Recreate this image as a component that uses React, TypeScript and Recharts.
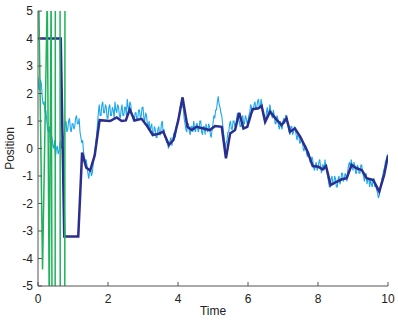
import { LineChart, Line, XAxis, YAxis } from 'recharts';

// noisy measured position, one sample every 0.025 s from t = 0
const measuredStep = 0.025;
const measured = [
  2.6, 2.2, 2.1, 2.5, 2.3, 1.8, 1.6, 1.7, 1.3, 1.4,
  1.0, 0.7, 0.6, 0.8, 0.2, 0.5, 0.4, 0.1, 0.0, 0.3,
  -0.3, 0.0, 0.1, -0.2, -0.1, 0.2, 0.3, 0.0, 0.1, 0.4,
  0.5, 0.9, 1.0, 0.6, 0.7, 1.0, 1.1, 0.7, 0.6, 0.9,
  0.9, 0.7, 0.8, 1.1, 1.2, 0.9, 0.9, 1.1, 0.6, 0.4,
  0.2, 0.3, -0.1, -0.3, -0.5, -0.4, -0.6, -0.9, -1.1, -0.8,
  -0.7, -1.0, -0.9, -0.6, -0.3, -0.1, 0.2, 0.5, 0.9, 1.3,
  1.6, 1.2, 1.2, 1.6, 1.7, 1.3, 1.3, 1.6, 1.5, 1.1,
  1.1, 1.5, 1.6, 1.2, 1.2, 1.5, 1.4, 1.1, 1.7, 1.4,
  1.3, 1.6, 1.5, 1.2, 1.1, 1.4, 1.6, 1.2, 1.2, 1.5,
  1.5, 1.2, 1.8, 1.5, 1.4, 1.7, 1.6, 1.3, 1.2, 1.0,
  1.0, 1.3, 1.3, 1.0, 1.1, 1.4, 1.4, 1.1, 1.2, 1.5,
  1.5, 1.1, 1.0, 1.3, 1.2, 0.9, 0.8, 1.0, 0.6, 0.8,
  0.9, 0.5, 0.5, 0.8, 0.7, 0.4, 0.4, 0.7, 0.8, 0.5,
  0.5, 0.9, 1.0, 0.6, 0.7, 0.4, 0.4, 0.2, 0.3, 0.0,
  0.1, 0.3, 0.4, 0.1, 0.3, 0.5, 0.6, 0.4, 0.8, 0.9,
  1.0, 1.2, 1.4, 1.6, 1.7, 1.5, 1.5, 1.1, 0.9, 0.7,
  0.6, 0.9, 0.9, 0.6, 0.5, 0.8, 0.8, 0.6, 1.0, 0.7,
  0.6, 0.9, 0.9, 0.6, 0.7, 1.0, 1.0, 0.6, 0.5, 0.8,
  0.8, 0.5, 0.9, 0.7, 0.6, 0.9, 0.8, 0.5, 0.4, 0.7,
  0.9, 1.2, 1.1, 1.4, 1.4, 1.7, 1.9, 1.6, 1.5, 1.3,
  1.2, 0.9, 0.6, 0.3, 0.0, 0.2, 0.3, 0.6, 0.6, 0.9,
  1.0, 0.7, 0.7, 1.0, 1.0, 0.8, 0.8, 1.1, 1.3, 1.1,
  1.0, 0.8, 0.8, 1.1, 1.2, 0.9, 0.9, 1.2, 1.1, 0.9,
  1.0, 1.2, 1.3, 1.6, 1.5, 1.3, 1.4, 1.6, 1.7, 1.4,
  1.5, 1.7, 1.8, 1.5, 1.5, 1.8, 1.6, 1.3, 1.2, 1.0,
  1.0, 1.3, 1.5, 1.2, 1.3, 1.6, 1.4, 1.2, 1.1, 1.4,
  1.2, 0.9, 0.9, 1.2, 1.1, 0.8, 0.7, 1.0, 0.8, 0.7,
  1.0, 1.1, 0.9, 1.2, 1.2, 0.9, 0.8, 0.6, 0.5, 0.8,
  0.8, 0.5, 0.6, 0.8, 0.7, 0.5, 0.3, 0.5, 0.5, 0.2,
  0.2, 0.4, 0.3, 0.0, -0.1, 0.1, 0.1, -0.2, -0.3, -0.1,
  -0.2, -0.5, -0.5, -0.3, -0.4, -0.7, -0.8, -0.6, -0.5, -0.8,
  -0.7, -0.5, -0.4, -0.7, -0.9, -0.6, -0.6, -0.8, -0.4, -0.7,
  -0.8, -1.0, -1.2, -1.4, -1.4, -1.1, -1.0, -1.3, -1.3, -1.0,
  -1.1, -1.4, -1.4, -1.1, -1.0, -1.3, -1.2, -0.9, -0.9, -1.2,
  -1.1, -0.9, -1.0, -1.2, -0.8, -0.6, -0.5, -0.7, -0.4, -0.6,
  -0.8, -0.5, -0.6, -0.9, -0.9, -0.6, -0.7, -0.9, -0.9, -0.6,
  -0.6, -0.9, -1.0, -1.2, -1.0, -0.9, -1.3, -1.1, -1.1, -1.4,
  -1.1, -1.3, -1.4, -1.1, -1.1, -1.4, -1.3, -1.5, -1.6, -1.8,
  -1.7, -1.5, -1.3, -1.1, -1.0, -0.8, -0.7, -0.5, -0.4, -0.3,
  -0.2,
];

// smoothed estimate
const estimateT = [
  0, 0.65, 0.75, 1.15, 1.26, 1.38, 1.49, 1.62, 1.76, 2.06,
  2.25, 2.39, 2.51, 2.62, 2.76, 2.96, 3.1, 3.28, 3.44, 3.58,
  3.74, 3.87, 4.01, 4.13, 4.27, 4.39, 4.53, 4.72, 4.91, 5.06,
  5.25, 5.37, 5.49, 5.63, 5.75, 5.87, 5.98, 6.13, 6.3, 6.39,
  6.49, 6.63, 6.82, 6.96, 7.1, 7.2, 7.34, 7.49, 7.68, 7.85,
  8.01, 8.13, 8.23, 8.36, 8.53, 8.68, 8.82, 8.96, 9.1, 9.25,
  9.39, 9.58, 9.75, 9.89, 10,
];
const estimateY = [
  4, 4, -3.2, -3.2, -0.15, -0.7, -0.8, -0.25, 1.03, 1.0,
  1.13, 1.0, 1.02, 1.42, 1.02, 1.08, 0.85, 0.49, 0.53, 0.61,
  0.13, 0.31, 1.04, 1.86, 0.79, 0.67, 0.79, 0.73, 0.67, 0.82,
  0.79, -0.36, 0.55, 0.67, 1.3, 0.73, 0.79, 1.43, 1.46, 1.55,
  0.97, 1.34, 1.04, 0.85, 1.1, 0.61, 0.73, 0.43, -0.05, -0.64,
  -0.66, -0.76, -0.64, -1.33, -1.21, -1.12, -1.08, -0.6, -0.72, -0.78,
  -1.08, -1.15, -1.57, -0.96, -0.25,
];

// diverging estimate at the start (goes off the axes)
const divergeT = [0, 0.13, 0.265, 0.32, 0.375, 0.4, 0.49, 0.495, 0.63, 0.635, 0.765, 0.77];
const divergeY = [7.5, -4.4, 5.6, -5.6, 5.6, -5.6, -5.6, 5.6, 5.6, -5.6, -5.6, 5.6];

const xTicks = [0, 2, 4, 6, 8, 10];
const yTicks = [-5, -4, -3, -2, -1, 0, 1, 2, 3, 4, 5];

const measuredData = measured.map((y, i) => ({ t: i * measuredStep, y }));
const estimateData = estimateT.map((t, i) => ({ t, y: estimateY[i] }));
const divergeData = divergeT.map((t, i) => ({ t, y: divergeY[i] }));

const font = '"Liberation Sans", Arial, Helvetica, sans-serif';
const axisColor = '#555';
const tickStyle = { fill: '#222', fontSize: 12, fontFamily: font };

export default function App() {
  return (
    <div style={{ position: 'absolute', left: 0, top: 0, background: '#fff' }}>
      <style>{'body{margin:0}'}</style>
      <LineChart width={398} height={320} margin={{ top: 11, right: 10, bottom: 0, left: 0 }}>
        <XAxis
          type="number"
          dataKey="t"
          domain={[0, 10]}
          ticks={xTicks}
          allowDataOverflow
          stroke={axisColor}
          tickSize={-4}
          tickMargin={12}
          tick={tickStyle}
          height={34}
          label={{ value: 'Time', position: 'insideBottom', offset: 5, style: { fill: '#222', fontSize: 12, fontFamily: font } }}
        />
        <XAxis
          xAxisId="top"
          orientation="top"
          type="number"
          domain={[0, 10]}
          ticks={xTicks}
          allowDataOverflow
          stroke={axisColor}
          tickSize={-4}
          tick={false}
          height={0}
        />
        <YAxis
          type="number"
          domain={[-5, 5]}
          ticks={yTicks}
          allowDataOverflow
          stroke={axisColor}
          tickSize={-4}
          tickMargin={9}
          tick={tickStyle}
          width={38}
          label={{
            value: 'Position',
            angle: -90,
            position: 'insideLeft',
            offset: 10,
            style: { textAnchor: 'middle', fill: '#222', fontSize: 12, fontFamily: font },
          }}
        />
        <YAxis
          yAxisId="right"
          orientation="right"
          type="number"
          domain={[-5, 5]}
          ticks={yTicks}
          allowDataOverflow
          stroke={axisColor}
          tickSize={-4}
          tick={false}
          width={0}
        />
        <Line
          data={measuredData}
          dataKey="y"
          type="linear"
          stroke="#1ea7ec"
          strokeWidth={1.1}
          dot={false}
          isAnimationActive={false}
        />
        <Line
          data={estimateData}
          dataKey="y"
          type="linear"
          stroke="#2b2e8e"
          strokeWidth={2.5}
          dot={false}
          isAnimationActive={false}
        />
        <Line
          data={divergeData}
          dataKey="y"
          type="linear"
          stroke="#1fb25a"
          strokeWidth={1.5}
          dot={false}
          isAnimationActive={false}
        />
      </LineChart>
    </div>
  );
}
